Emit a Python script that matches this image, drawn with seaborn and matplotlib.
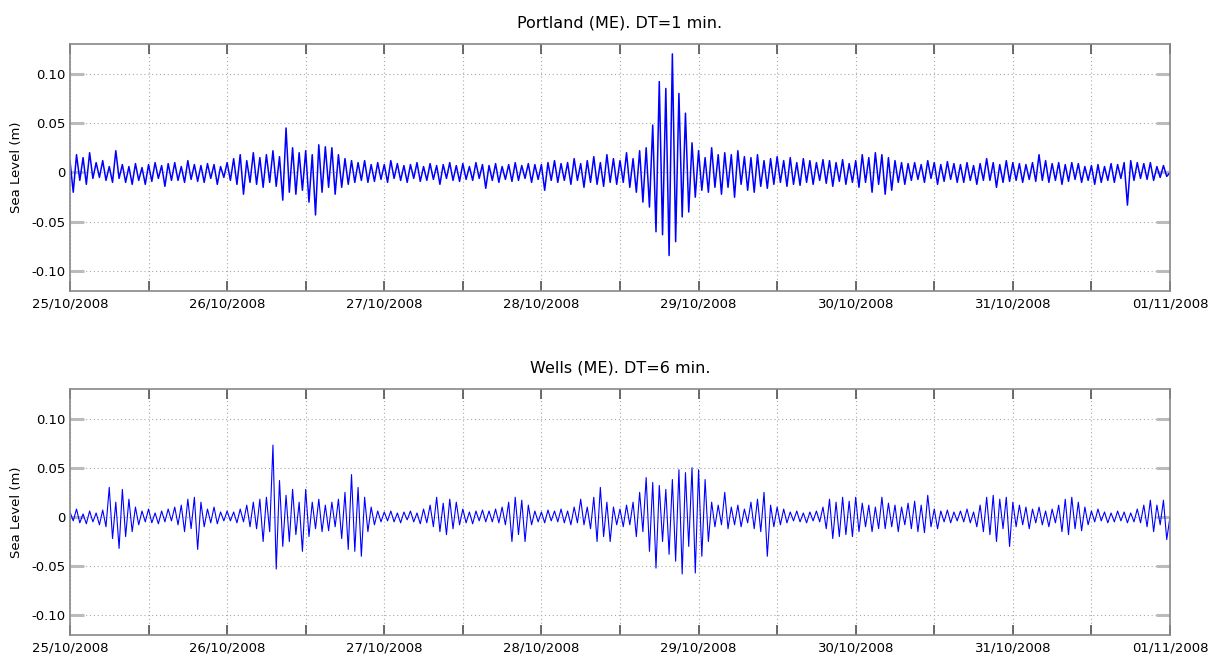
"""
Sea level residuals at Portland (ME) and Wells (ME), 25/10/2008 - 01/11/2008.

Values are read off the reference picture at half-hour steps (mm), one row
per four hours, six rows per day.
"""

import matplotlib

matplotlib.use("Agg")
import matplotlib.dates as mdates
import matplotlib.pyplot as plt
import numpy as np
import pandas as pd
import seaborn as sns

START = "2008-10-25 00:00"
END = "2008-11-01 00:00"
STEP = "30min"

PORTLAND_TITLE = "Portland (ME). DT=1 min."
WELLS_TITLE = "Wells (ME). DT=6 min."
Y_LABEL = "Sea Level (m)"
Y_TICKS = [-0.10, -0.05, 0.0, 0.05, 0.10]
Y_TICK_LABELS = ["-0.10", "-0.05", "0", "0.05", "0.10"]

# Portland, mm
portland_mm = [
    # 25/10
    12, -20, 18, -8, 15, -12, 20, -6,
    10, -5, 12, -8, 6, -10, 22, -6,
    8, -10, 6, -12, 9, -8, 5, -12,
    8, -9, 10, -6, 7, -14, 9, -8,
    10, -8, 6, -10, 12, -7, 8, -9,
    7, -10, 9, -6, 8, -12, 6, -5,
    # 26/10
    10, -8, 14, -12, 18, -22, 12, -10,
    20, -12, 15, -15, 18, -10, 22, -14,
    16, -28, 45, -20, 25, -22, 20, -18,
    22, -30, 18, -43, 28, -20, 26, -15,
    25, -22, 18, -15, 14, -12, 12, -10,
    10, -8, 12, -10, 8, -9, 10, -7,
    # 27/10
    8, -10, 12, -6, 9, -8, 7, -10,
    8, -6, 10, -9, 6, -8, 9, -7,
    7, -12, 8, -6, 10, -8, 7, -9,
    9, -7, 6, -8, 10, -6, 8, -16,
    7, -8, 9, -10, 6, -7, 8, -9,
    10, -8, 7, -6, 9, -10, 8, -7,
    # 28/10
    8, -18, 10, -8, 12, -10, 9, -8,
    10, -12, 14, -8, 9, -15, 12, -10,
    16, -12, 10, -14, 18, -10, 14, -12,
    12, -10, 20, -15, 14, -20, 22, -30,
    25, -35, 48, -60, 92, -63, 85, -84,
    120, -70, 80, -45, 60, -40, 30, -25,
    # 29/10
    22, -18, 15, -20, 25, -15, 18, -22,
    20, -15, 18, -25, 22, -12, 16, -18,
    15, -20, 18, -14, 12, -16, 14, -12,
    16, -10, 12, -14, 15, -12, 10, -13,
    14, -10, 12, -12, 10, -8, 13, -11,
    12, -14, 10, -9, 13, -12, 9, -10,
    # 30/10
    12, -15, 18, -10, 15, -20, 20, -12,
    18, -22, 15, -18, 12, -10, 10, -12,
    9, -8, 10, -7, 8, -10, 12, -6,
    10, -12, 8, -9, 11, -7, 9, -10,
    8, -10, 10, -8, 7, -12, 9, -8,
    14, -8, 10, -15, 8, -10, 12, -9,
    # 31/10
    10, -8, 9, -10, 8, -7, 10, -9,
    18, -8, 12, -10, 9, -8, 10, -12,
    8, -9, 10, -7, 9, -10, 6, -8,
    7, -12, 8, -10, 6, -8, 9, -10,
    8, -6, 10, -33, 12, -8, 10, -6,
    9, -7, 10, -8, 6, -5, 7, -4,
    # 01/11
    0,
]

# Wells, mm
wells_mm = [
    # 25/10
    5, -4, 8, -6, 3, -7, 6, -5,
    4, -8, 7, -10, 30, -22, 15, -32,
    28, -20, 18, -15, 10, -8, 6, -5,
    8, -6, 4, -7, 6, -5, 8, -4,
    10, -8, 12, -15, 18, -12, 20, -33,
    15, -10, 8, -6, 10, -7, 5, -4,
    # 26/10
    6, -4, 5, -6, 8, -5, 12, -10,
    15, -12, 18, -25, 20, -15, 73, -53,
    37, -30, 22, -25, 28, -18, 15, -35,
    28, -20, 15, -12, 18, -15, 12, -14,
    15, -10, 18, -22, 25, -33, 43, -35,
    30, -40, 20, -15, 10, -8, 6, -5,
    # 27/10
    5, -4, 6, -5, 4, -6, 5, -3,
    6, -5, 4, -7, 8, -6, 12, -10,
    20, -15, 14, -18, 18, -12, 15, -8,
    8, -6, 5, -7, 6, -4, 7, -5,
    6, -5, 8, -6, 10, -8, 15, -25,
    20, -18, 17, -25, 12, -8, 6, -5,
    # 28/10
    5, -6, 7, -4, 6, -5, 8, -6,
    6, -8, 10, -6, 18, -8, 10, -12,
    20, -25, 30, -20, 15, -25, 10, -8,
    8, -10, 12, -8, 15, -20, 25, -15,
    40, -35, 35, -52, 32, -25, 28, -38,
    38, -45, 48, -58, 45, -30, 50, -57,
    # 29/10
    48, -40, 38, -25, 15, -10, 12, -8,
    25, -12, 10, -8, 12, -10, 8, -6,
    15, -12, 18, -15, 25, -40, 12, -10,
    10, -8, 8, -6, 5, -4, 6, -5,
    4, -6, 5, -4, 6, -5, 10, -12,
    18, -22, 15, -20, 20, -18, 16, -20,
    # 30/10
    20, -15, 14, -10, 12, -15, 10, -12,
    20, -12, 14, -10, 12, -15, 10, -8,
    14, -12, 16, -15, 12, -16, 22, -10,
    8, -12, 6, -5, 7, -6, 5, -4,
    6, -5, 8, -6, 5, -10, 12, -15,
    20, -18, 22, -25, 18, -12, 20, -30,
    # 31/10
    15, -10, 12, -8, 10, -12, 8, -6,
    10, -8, 6, -10, 8, -6, 12, -15,
    18, -18, 20, -12, 15, -14, 10, -8,
    6, -5, 8, -4, 5, -6, 4, -5,
    6, -4, 5, -6, 4, -5, 8, -6,
    12, -10, 17, -15, 12, -8, 17, -23,
    # 01/11
    0,
]


def make_frame(values_mm: list[int]) -> pd.DataFrame:
    times = pd.date_range(START, periods=len(values_mm), freq=STEP)
    return pd.DataFrame({"time": times, "level": np.asarray(values_mm, dtype=float) / 1000.0})


def draw_panel(ax, df: pd.DataFrame, title: str, lw: float) -> None:
    sns.lineplot(data=df, x="time", y="level", ax=ax, color="#0000ff", linewidth=lw, estimator=None)
    ax.set_xlim(pd.Timestamp(START), pd.Timestamp(END))
    ax.set_ylim(-0.12, 0.13)
    ax.set_yticks(Y_TICKS)
    ax.set_yticklabels(Y_TICK_LABELS)

    ax.xaxis.set_major_locator(mdates.DayLocator())
    ax.xaxis.set_major_formatter(mdates.DateFormatter("%d/%m/%Y"))
    ax.xaxis.set_minor_locator(mdates.HourLocator(byhour=[12]))

    ax.grid(True, which="both", linestyle=(0, (1, 2.5)), color="#a8a8a8", linewidth=0.8)
    ax.set_axisbelow(True)

    ax.tick_params(axis="x", which="both", direction="in", top=True, bottom=True,
                   length=7, width=1.1, color="#444444", labelsize=9.5, pad=5,
                   labelcolor="black")
    ax.tick_params(axis="y", which="major", direction="in", left=True, right=True,
                   length=10, width=2.2, color="#bbbbbb", labelsize=9.5, pad=3,
                   labelcolor="black")

    ax.set_xlabel("")
    ax.set_ylabel(Y_LABEL, fontsize=9.5, labelpad=6, color="black")
    ax.set_title(title, fontsize=11.5, pad=12, color="black")
    for spine in ax.spines.values():
        spine.set_color("#888888")
        spine.set_linewidth(1.2)


def main() -> int:
    sns.set_theme(style="white")
    plt.rcParams["font.family"] = ["DejaVu Sans"]

    fig = plt.figure(figsize=(12.19, 6.57), dpi=100)
    ax_top = fig.add_axes([0.0574, 0.557, 0.9024, 0.376])
    ax_bot = fig.add_axes([0.0574, 0.0335, 0.9024, 0.3744])

    draw_panel(ax_top, make_frame(portland_mm), PORTLAND_TITLE, 1.1)
    draw_panel(ax_bot, make_frame(wells_mm), WELLS_TITLE, 0.8)

    fig.savefig("out.png", dpi=100, facecolor="white")
    plt.close(fig)
    return 0


if __name__ == "__main__":
    raise SystemExit(main())
